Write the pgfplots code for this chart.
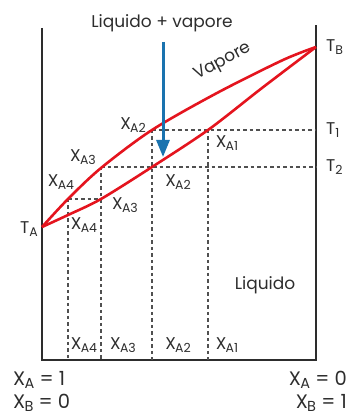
\documentclass[border=0pt]{standalone}
\usepackage{pgfplots}
\pgfplotsset{compat=1.18}
\usepackage{fontspec}
\setmainfont{Poppins}
\usetikzlibrary{arrows.meta}

\definecolor{curvered}{RGB}{228,20,30}
\definecolor{arrowblue}{RGB}{26,115,175}
\definecolor{ink}{RGB}{45,45,45}
\definecolor{guide}{RGB}{80,80,80}

% subscript set lower and smaller
\newcommand\sub[1]{\raisebox{-0.32ex}{\fontsize{12.5}{13}\selectfont #1}}
\newcommand\Xs[1]{X\kern-0.04em\sub{#1}}
% larger variant for the end-member compositions
\newcommand\bigsub[1]{\raisebox{-0.32ex}{\fontsize{14.5}{15}\selectfont #1}}
\newcommand\Xb[1]{X\kern-0.04em\bigsub{#1}}

\begin{document}
\begin{tikzpicture}[
  lbl/.style={text=ink, inner sep=1pt, font=\fontsize{17}{19}\selectfont},
  endlbl/.style={text=ink, inner sep=1pt, font=\fontsize{19.5}{21}\selectfont},
]
\begin{axis}[
  width=349pt, height=417pt, scale only axis,
  xmin=-42, xmax=307, ymin=-57, ymax=360,
  hide axis, clip=false,
]
\path (rel axis cs:0,0) rectangle (rel axis cs:1,1);

% frame: two temperature axes and the composition axis
\addplot[ink, line width=2pt] coordinates {(0,332) (0,0) (274,0) (274,335)};

% tie lines and composition guides
\pgfplotsset{guides/.style={guide, line width=1.1pt, dash pattern=on 3.5pt off 3pt}}
\addplot[guides] coordinates {(110,230) (274,230)};
\addplot[guides] coordinates {(59,193) (274,193)};
\addplot[guides] coordinates {(26,161) (59,161)};
\addplot[guides] coordinates {(166,230) (166,0)};
\addplot[guides] coordinates {(110,230) (110,0)};
\addplot[guides] coordinates {(59,193) (59,0)};
\addplot[guides] coordinates {(26,161) (26,0)};

% vapour (dew) curve
\addplot[curvered, line width=2.6pt, smooth] coordinates {
  (0,133) (26,161) (59,192) (110,230) (175,267) (241,300) (274,313)};
% liquid (boiling) curve
\addplot[curvered, line width=2.6pt, smooth] coordinates {
  (0,133) (26,145) (59,161) (110,193) (166,230) (220,272) (274,313)};

% cooling path
\addplot[arrowblue, line width=3pt, -{Triangle[length=17pt, width=13pt]}] coordinates {(121,318) (121,203)};

% labels
\node[lbl] at (axis cs:120,337) {Liquido + vapore};
\node[lbl, rotate=28] at (axis cs:181,298) {Vapore};
\node[lbl] at (axis cs:223,75) {Liquido};

\node[lbl, anchor=west] at (axis cs:283,313) {T\sub{B}};
\node[lbl, anchor=west] at (axis cs:283,230) {T\sub{1}};
\node[lbl, anchor=west] at (axis cs:283,193) {T\sub{2}};
\node[lbl, anchor=east] at (axis cs:-3,131) {T\sub{A}};

\node[lbl] at (axis cs:91,235) {\Xs{A2}};
\node[lbl] at (axis cs:41,203) {\Xs{A3}};
\node[lbl] at (axis cs:19,178) {\Xs{A4}};
\node[lbl] at (axis cs:185,217) {\Xs{A1}};
\node[lbl] at (axis cs:136,178) {\Xs{A2}};
\node[lbl] at (axis cs:83,155) {\Xs{A3}};
\node[lbl] at (axis cs:42,135) {\Xs{A4}};

\node[lbl] at (axis cs:42,15) {\Xs{A4}};
\node[lbl] at (axis cs:81,15) {\Xs{A3}};
\node[lbl] at (axis cs:136,15) {\Xs{A2}};
\node[lbl] at (axis cs:185,15) {\Xs{A1}};

\node[endlbl, anchor=west] at (axis cs:-30,-20) {\Xb{A} = 1};
\node[endlbl, anchor=west] at (axis cs:-30,-43) {\Xb{B} = 0};
\node[endlbl, anchor=east] at (axis cs:306,-20) {\Xb{A} = 0};
\node[endlbl, anchor=east] at (axis cs:306,-43) {\Xb{B} = 1};
\end{axis}
\end{tikzpicture}
\end{document}
